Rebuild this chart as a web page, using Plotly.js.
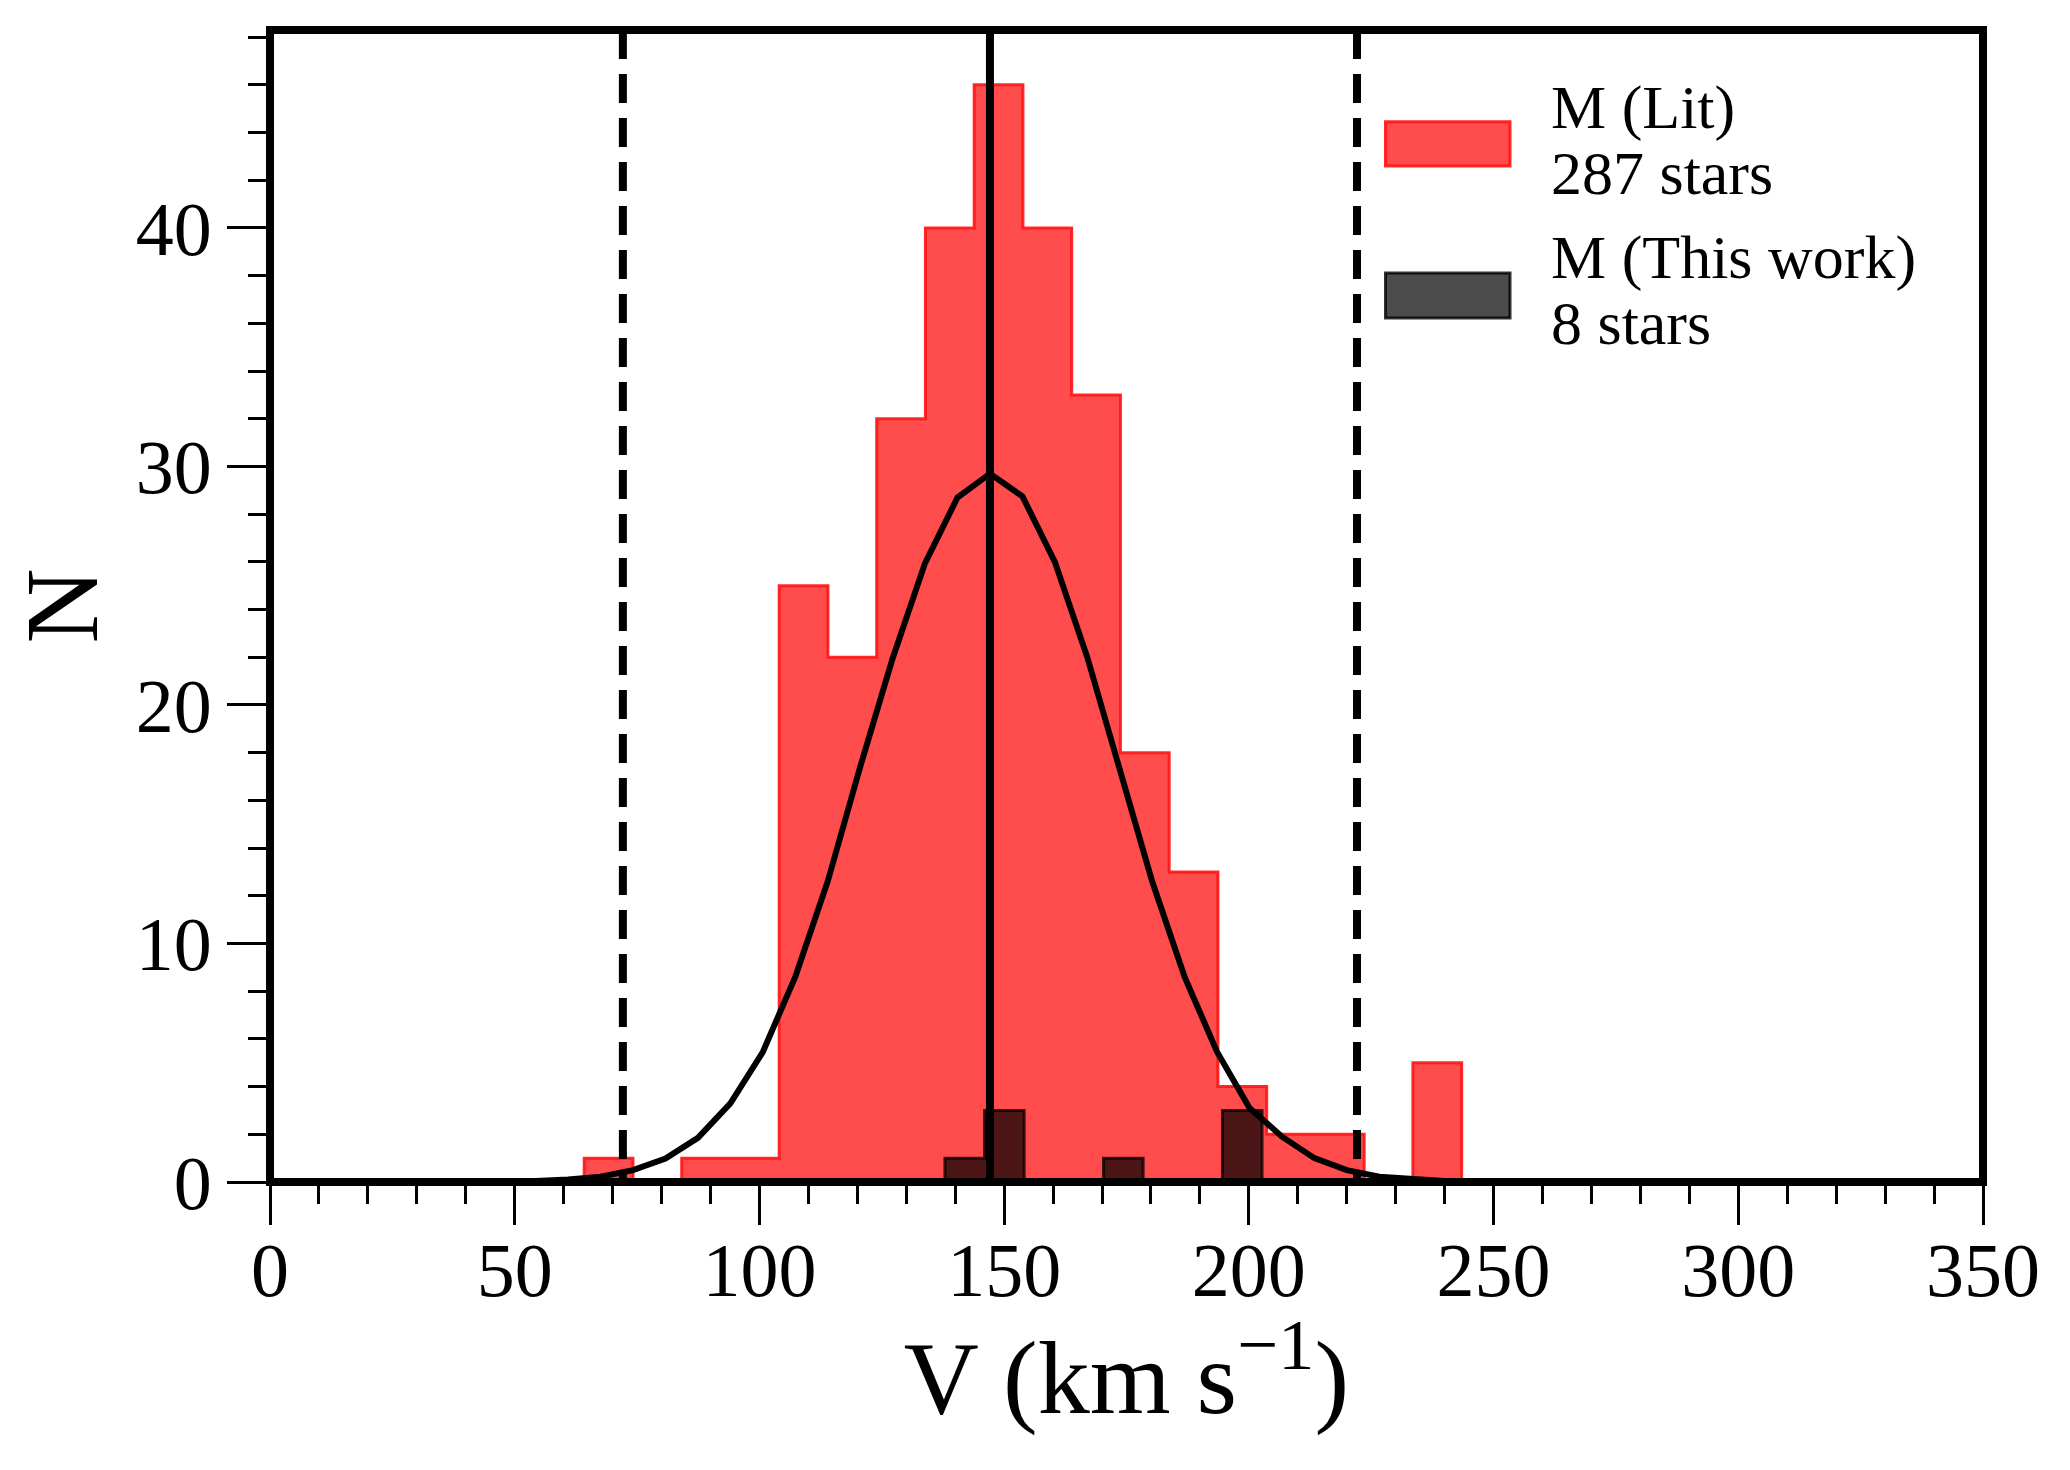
<!DOCTYPE html>
<html>
<head>
<meta charset="utf-8">
<script src="https://cdn.plot.ly/plotly-3.0.1.min.js"></script>
<style>
html, body { margin: 0; padding: 0; background: #ffffff; }
#chart { width: 2070px; height: 1470px; }
</style>
</head>
<body>
<div id="chart"></div>
<script>
// ---- data ----
const litEdges = [64.2, 74.16, 84.12, 94.08, 104.04, 114.0, 123.96, 133.92, 143.88, 153.84,
                  163.8, 173.76, 183.72, 193.68, 203.64, 213.6, 223.56, 233.52, 243.48];
const litCounts = [1, 0, 1, 1, 25, 22, 32, 40, 46, 40, 33, 18, 13, 4, 2, 2, 0, 5];

const workEdges = [137.9, 146.0, 154.1, 162.2, 170.3, 178.4, 186.5, 194.6, 202.7];
const workCounts = [1, 3, 0, 0, 1, 0, 0, 3];

const curveV = [27.76, 34.39, 41.02, 47.65, 54.28, 60.91, 67.54, 74.17, 80.80, 87.43,
                94.06, 100.69, 107.32, 113.95, 120.58, 127.21, 133.84, 140.47, 147.10,
                153.73, 160.36, 166.99, 173.62, 180.25, 186.88, 193.51, 200.14, 206.77,
                213.40, 220.03, 226.66, 233.29, 239.92, 246.55, 253.18, 259.81, 266.44];
const curveN = [0, 0, 0.005, 0.015, 0.04, 0.1, 0.22, 0.5, 0.98, 1.85,
                3.3, 5.45, 8.6, 12.6, 17.4, 21.95, 25.95, 28.7, 29.7,
                28.75, 26.0, 22.0, 17.4, 12.6, 8.6, 5.45, 3.1, 1.9,
                1.0, 0.5, 0.22, 0.1, 0.04, 0.015, 0.005, 0, 0];

const meanV = [147.1];
const limitV = [72.1, 222.1];

const legendNames = ["M (Lit)", "M (This work)"];
const legendCounts = ["287 stars", "8 stars"];

const xTitle = "V (km s<sup>\u22121</sup>)";
const yTitle = "N";

// ---- layout constants ----
const W = 2070, H = 1470;
const L = 270, R = 1983, T = 30, B = 1182.5;
const Y_TOP = 48.3;
const FONT = "Liberation Serif, Times New Roman, serif";

function stepXY(edges, counts) {
  const x = [edges[0]], y = [0];
  for (let i = 0; i < counts.length; i++) { x.push(edges[i]); y.push(counts[i]); }
  x.push(edges[edges.length - 1]); y.push(0);
  return { x, y };
}

const litStep = stepXY(litEdges, litCounts);
const workStep = stepXY(workEdges, workCounts);

const traces = [
  {
    type: "scatter", mode: "lines", x: litStep.x, y: litStep.y,
    line: { shape: "hv", color: "rgba(255,20,20,0.9)", width: 3 },
    fill: "tozeroy", fillcolor: "rgba(255,0,0,0.7)",
    showlegend: false, hoverinfo: "skip"
  },
  {
    type: "scatter", mode: "lines", x: workStep.x, y: workStep.y,
    line: { shape: "hv", color: "rgba(0,0,0,0.75)", width: 3 },
    fill: "tozeroy", fillcolor: "rgba(0,0,0,0.7)",
    showlegend: false, hoverinfo: "skip"
  },
  {
    type: "scatter", mode: "lines", x: curveV, y: curveN,
    line: { color: "#000000", width: 6 },
    showlegend: false, hoverinfo: "skip"
  }
];
limitV.forEach(v => traces.push({
  type: "scatter", mode: "lines", x: [v, v], y: [Y_TOP, 0],
  line: { color: "#000000", width: 8, dash: "29px,15px" },
  showlegend: false, hoverinfo: "skip"
}));
meanV.forEach(v => traces.push({
  type: "scatter", mode: "lines", x: [v, v], y: [Y_TOP, 0],
  line: { color: "#000000", width: 8 },
  showlegend: false, hoverinfo: "skip"
}));

function px(xp) { return (xp - L) / (R - L); }
function py(yp) { return (B - yp) / (B - T); }

const shapes = [
  { type: "rect", xref: "paper", yref: "paper", x0: 0, x1: 1, y0: 0, y1: 1,
    line: { color: "#000000", width: 8 }, fillcolor: "rgba(0,0,0,0)", layer: "above" },
  { type: "rect", xref: "paper", yref: "paper", x0: px(1385.5), x1: px(1510), y0: py(166), y1: py(121.7),
    line: { color: "rgba(255,20,20,0.9)", width: 3 }, fillcolor: "rgba(255,0,0,0.7)", layer: "above" },
  { type: "rect", xref: "paper", yref: "paper", x0: px(1385.5), x1: px(1510), y0: py(318), y1: py(273),
    line: { color: "rgba(0,0,0,0.8)", width: 3 }, fillcolor: "rgba(0,0,0,0.7)", layer: "above" }
];

const legendY = [[108, 173], [258, 323]];
const annotations = [];
legendNames.forEach((name, i) => {
  annotations.push({ xref: "paper", yref: "paper", x: px(1549), y: py(legendY[i][0]),
    xanchor: "left", yanchor: "middle", showarrow: false, text: name,
    font: { family: FONT, size: 62, color: "#000000" } });
  annotations.push({ xref: "paper", yref: "paper", x: px(1549), y: py(legendY[i][1]),
    xanchor: "left", yanchor: "middle", showarrow: false, text: legendCounts[i],
    font: { family: FONT, size: 62, color: "#000000" } });
});

const tickFont = { family: FONT, size: 76, color: "#000000" };

const layout = {
  width: W, height: H,
  margin: { l: L, r: W - R, t: T, b: H - B, pad: 0 },
  paper_bgcolor: "#ffffff", plot_bgcolor: "#ffffff",
  showlegend: false,
  font: { family: FONT, color: "#000000" },
  xaxis: {
    range: [0, 350], tick0: 0, dtick: 50,
    ticks: "outside", ticklen: 42, tickwidth: 3, tickcolor: "#000000",
    showline: false, showgrid: false, zeroline: false, automargin: false,
    tickfont: tickFont,
    minor: { dtick: 10, tick0: 0, ticks: "outside", ticklen: 21, tickwidth: 3, tickcolor: "#000000", showgrid: false },
    title: { text: xTitle, font: { family: FONT, size: 104, color: "#000000" }, standoff: 8 }
  },
  yaxis: {
    range: [0, Y_TOP], tick0: 0, dtick: 10,
    ticks: "outside", ticklen: 42, tickwidth: 3, tickcolor: "#000000",
    showline: false, showgrid: false, zeroline: false, automargin: false,
    tickfont: tickFont,
    minor: { dtick: 2, tick0: 0, ticks: "outside", ticklen: 21, tickwidth: 3, tickcolor: "#000000", showgrid: false },
    title: { text: yTitle, font: { family: FONT, size: 104, color: "#000000" }, standoff: 12 }
  },
  shapes: shapes,
  annotations: annotations
};

Plotly.newPlot("chart", traces, layout, { staticPlot: true, displayModeBar: false }).then(gd => {
  // fine placement of tick labels and axis titles to follow the reference
  gd.querySelectorAll(".xaxislayer-above g.xtick").forEach(g => g.setAttribute("transform", "translate(0,-20)"));
  gd.querySelectorAll("g.g-xtitle").forEach(g => g.setAttribute("transform", "translate(0,0)"));
  gd.querySelectorAll("g.g-ytitle").forEach(g => g.setAttribute("transform", "translate(9,0)"));
});
</script>
</body>
</html>
